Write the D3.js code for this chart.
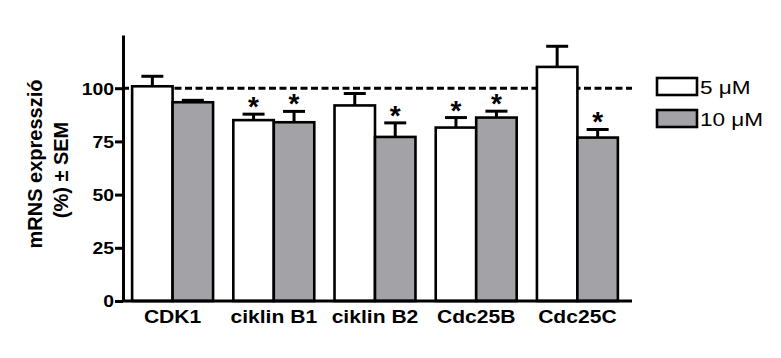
<!DOCTYPE html>
<html><head><meta charset="utf-8">
<script src="https://cdn.jsdelivr.net/npm/d3@7"></script>
<style>body{margin:0;background:#fff}</style>
</head><body>
<script>
const categories = ["CDK1","ciklin B1","ciklin B2","Cdc25B","Cdc25C"];
const seriesNames = ["5 \u03bcM","10 \u03bcM"];
const values5 = [100.9, 85.0, 91.9, 81.5, 110.0];
const errors5 = [4.7, 2.8, 5.6, 4.7, 9.7];
const values10 = [93.4, 84.0, 77.1, 86.2, 76.8];
const errors10 = [0.9, 5.1, 6.6, 3.0, 3.8];
const star5 = [false, true, false, true, false];
const star10 = [false, true, true, true, true];
const yTicks = [0, 25, 50, 75, 100];
const refLine = 100;

const W = 781, H = 358;
const svg = d3.select("body").append("svg").attr("width", W).attr("height", H);
const font = "'Liberation Sans', Arial, sans-serif";
const gray = "#a3a3a7";
const sx = 1.14;

const y = d3.scaleLinear().domain([0, 125]).range([301, 35]);
const x0 = d3.scaleBand().domain(categories).range([122, 628]).paddingInner(0.2).paddingOuter(0.1);
const x1 = d3.scaleBand().domain([0, 1]).range([0, x0.bandwidth()]);

// dashed reference
svg.append("line").attr("x1", 122).attr("x2", 632).attr("y1", y(refLine)).attr("y2", y(refLine))
  .attr("stroke", "#000").attr("stroke-width", 3).attr("stroke-dasharray", "7,3.5");

const data = [];
categories.forEach((c, i) => {
  data.push({c, s: 0, v: values5[i], e: errors5[i], star: star5[i]});
  data.push({c, s: 1, v: values10[i], e: errors10[i], star: star10[i]});
});

// error bars
const eb = svg.append("g").attr("stroke", "#000").attr("stroke-width", 3);
data.forEach(d => {
  const cx = x0(d.c) + x1(d.s) + x1.bandwidth() / 2;
  eb.append("line").attr("x1", cx).attr("x2", cx).attr("y1", y(d.v)).attr("y2", y(d.v + d.e));
  eb.append("line").attr("x1", cx - 11).attr("x2", cx + 11).attr("y1", y(d.v + d.e)).attr("y2", y(d.v + d.e));
});

// bars
svg.append("g").selectAll("rect").data(data).join("rect")
  .attr("x", d => x0(d.c) + x1(d.s))
  .attr("y", d => y(d.v))
  .attr("width", x1.bandwidth())
  .attr("height", d => y(0) - y(d.v))
  .attr("fill", d => d.s === 0 ? "#fff" : gray)
  .attr("stroke", "#000").attr("stroke-width", 2.6);

// asterisks
svg.append("g").selectAll("text").data(data.filter(d => d.star)).join("text")
  .attr("x", d => x0(d.c) + x1(d.s) + x1.bandwidth() / 2)
  .attr("y", d => y(d.v + d.e) - 13 + 15)
  .attr("text-anchor", "middle")
  .attr("font-family", font).attr("font-weight", "bold").attr("font-size", 28)
  .text("*");

// y axis
const ya = svg.append("g").attr("transform", "translate(123,0)")
  .call(d3.axisLeft(y).tickValues(yTicks).tickSize(8).tickSizeOuter(0).tickPadding(1));
ya.select(".domain").attr("stroke-width", 3);
ya.selectAll(".tick line").attr("stroke-width", 3);
ya.selectAll(".tick text")
  .attr("font-family", font).attr("font-weight", "bold").attr("font-size", 17).attr("fill", "#000")
  .attr("dy", "0.35em")
  .attr("x", -9 / sx)
  .attr("transform", `scale(${sx},1)`);

// x axis
const xa = svg.append("g").attr("transform", "translate(0,301)")
  .call(d3.axisBottom(x0).tickSize(0).tickSizeOuter(0).tickPadding(9));
xa.select(".domain").attr("stroke-width", 3).attr("d", "M122,0H632");
xa.selectAll(".tick text")
  .attr("font-family", font).attr("font-weight", "bold").attr("font-size", 18.5).attr("fill", "#000")
  .attr("transform", `scale(${sx},1)`)
  .attr("x", 0);
xa.selectAll(".tick").each(function(d) {
  d3.select(this).attr("transform", null);
  d3.select(this).select("text").attr("x", (x0(d) + x0.bandwidth() / 2) / sx);
});

// y title
const yt = svg.append("g").attr("font-family", font).attr("font-weight", "bold").attr("font-size", 20).attr("text-anchor", "middle");
yt.append("text").attr("transform", "translate(42,164) rotate(-90)").text("mRNS expresszió");
yt.append("text").attr("transform", "translate(68,170) rotate(-90)").text("(%) \u00b1 SEM");

// legend
const lg = svg.append("g");
seriesNames.forEach((n, i) => {
  const yy = 78 + i * 32;
  lg.append("rect").attr("x", 657).attr("y", yy).attr("width", 40).attr("height", 17)
    .attr("fill", i === 0 ? "#fff" : gray).attr("stroke", "#000").attr("stroke-width", 2.6);
  lg.append("g").attr("transform", `translate(700,${yy + 16}) scale(1.22,1)`)
    .append("text").attr("font-family", font).attr("font-size", 18.5).text(n);
});
</script>
</body></html>
